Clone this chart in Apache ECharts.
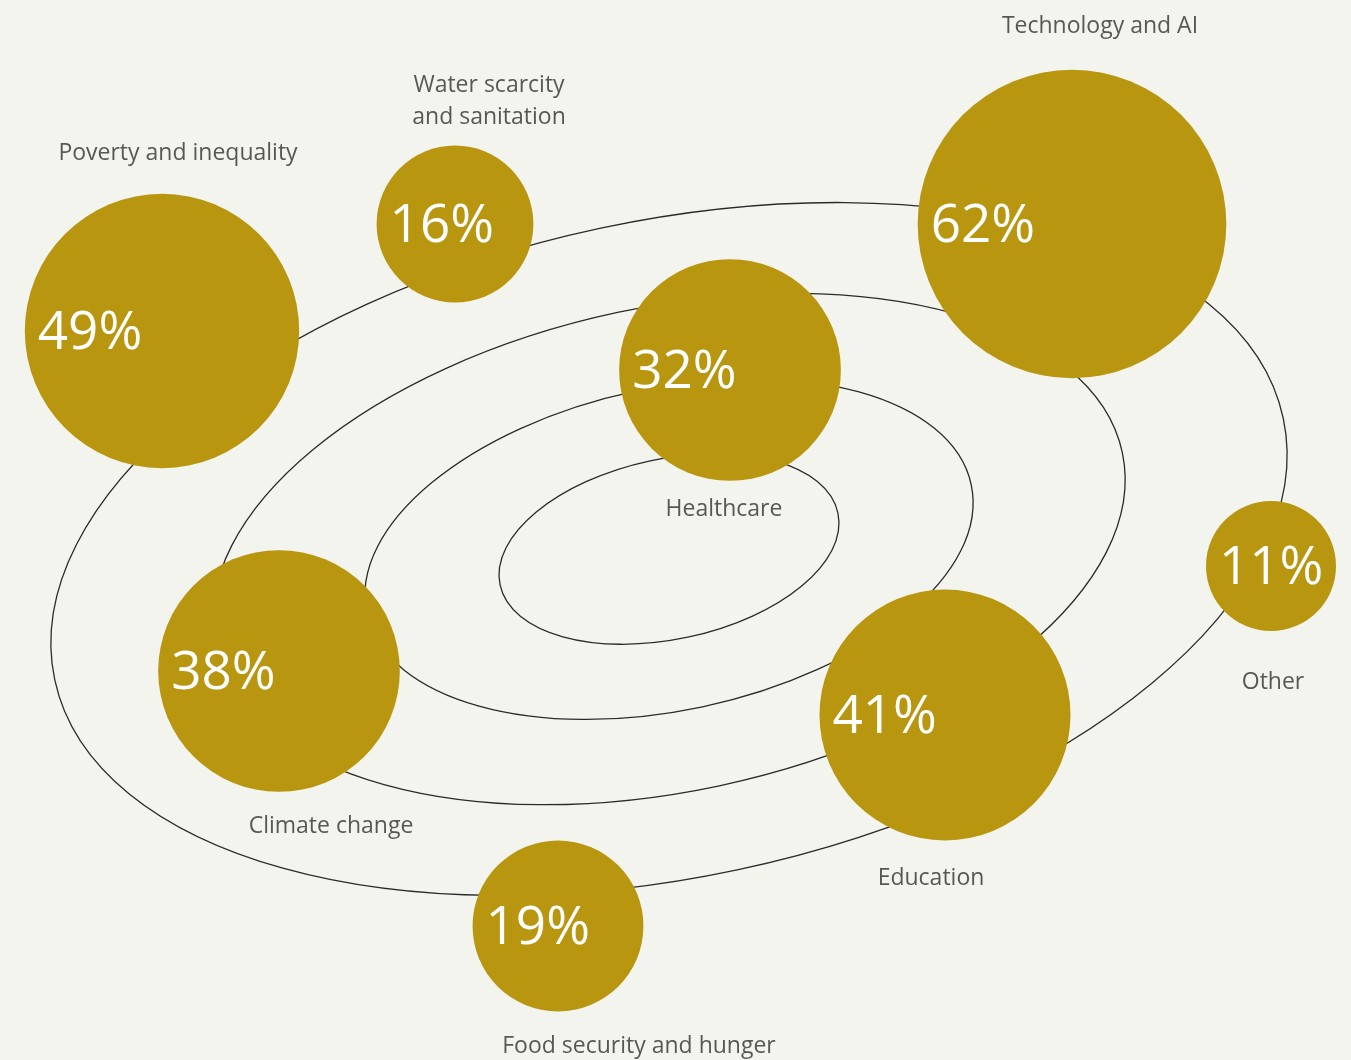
<!DOCTYPE html>
<html>
<head>
<meta charset="utf-8">
<script src="https://cdn.jsdelivr.net/npm/echarts@6/dist/echarts.min.js"></script>
<style>
  html, body { margin: 0; padding: 0; background: #f4f4ef; }
  #chart { width: 1351px; height: 1060px; }
</style>
</head>
<body>
<div id="chart"></div>
<script>
// survey answers, share of respondents (%)
const categories = [
  "Poverty and inequality",
  "Water scarcity\nand sanitation",
  "Technology and AI",
  "Healthcare",
  "Climate change",
  "Education",
  "Other",
  "Food security and hunger"
];
const shares = [49, 16, 62, 32, 38, 41, 11, 19];

// layout only (pixel space of the canvas)
const centers = [[162, 331], [455, 224], [1072, 224], [730, 370], [279, 671], [945, 715], [1271, 566], [558, 926]];
const nameSide = ["top", "top", "top", "bottom", "bottom", "bottom", "bottom", "bottom"];
const nameOffset = [[16, -24], [34, -12], [28, -27], [-6, 13], [52, 19], [-14, 22], [2, 35], [81, 19]];
const orbitScales = [0.275, 0.492, 0.738, 1];

const GOLD = "#b8960f";
const sizeOf = v => 39.2 * Math.sqrt(v);

const chart = echarts.init(document.getElementById("chart"));

const orbits = orbitScales.map(s => ({
  type: "ellipse",
  x: 669,
  y: 549,
  rotation: 12 * Math.PI / 180,
  shape: { cx: 0, cy: 0, rx: 628 * s, ry: 328 * s },
  style: { fill: null, stroke: "#2a2a2a", lineWidth: 1.3 },
  z: 0,
  silent: true
}));

const bubbleData = categories.map((c, i) => ({
  name: c,
  value: [centers[i][0], centers[i][1], shares[i]]
}));

const nameData = categories.map((c, i) => ({
  name: c,
  value: [centers[i][0], centers[i][1], shares[i]],
  label: { position: nameSide[i], offset: nameOffset[i] }
}));

chart.setOption({
  backgroundColor: "#f4f4ef",
  animation: false,
  grid: { left: 0, right: 0, top: 0, bottom: 0 },
  xAxis: { type: "value", min: 0, max: 1351, show: false },
  yAxis: { type: "value", min: 0, max: 1060, inverse: true, show: false },
  graphic: orbits,
  series: [
    {
      type: "scatter",
      z: 5,
      data: bubbleData,
      symbolSize: v => sizeOf(v[2]),
      itemStyle: { color: GOLD, opacity: 1 },
      emphasis: { disabled: true },
      label: {
        show: true,
        position: "insideLeft",
        distance: 13,
        offset: [0, 3],
        formatter: p => p.value[2] + "%",
        color: "#ffffff",
        fontSize: 53,
        fontFamily: "Open Sans"
      }
    },
    {
      type: "scatter",
      z: 6,
      silent: true,
      data: nameData,
      symbolSize: v => sizeOf(v[2]),
      itemStyle: { color: "rgba(0,0,0,0)" },
      emphasis: { disabled: true },
      label: {
        show: true,
        distance: 0,
        formatter: p => p.name,
        color: "#2f2f2f",
        fontSize: 23,
        lineHeight: 32,
        align: "center",
        fontFamily: "Open Sans"
      }
    }
  ]
});

window.addEventListener("resize", () => chart.resize());
</script>
</body>
</html>
